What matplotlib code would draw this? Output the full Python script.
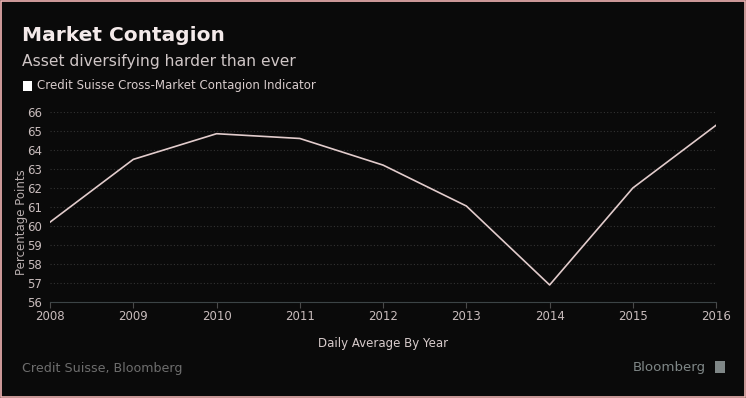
import numpy as np
import matplotlib.pyplot as plt
from matplotlib.patches import Rectangle

# data
years = [2008, 2009, 2010, 2011, 2012, 2013, 2014, 2015, 2016]
contagion = [60.2, 63.5, 64.85, 64.6, 63.2, 61.05, 56.9, 62.0, 65.3]
yticks = list(range(56, 67))

bg = '#0a0a0a'
fig = plt.figure(figsize=(7.46, 3.98), dpi=100, facecolor=bg)
ax = fig.add_axes([0.067, 0.241, 0.893, 0.478], facecolor=bg)

ax.plot(years, contagion, color='#e2cccc', lw=1.2)

ax.set_xlim(2008, 2016)
ax.set_ylim(56, 66)
ax.set_xticks(years)
ax.set_yticks(yticks)
ax.grid(axis='y', color='#333333', ls=(0, (1, 2)), lw=0.8)
for s in ['top', 'right', 'left']:
    ax.spines[s].set_visible(False)
ax.spines['bottom'].set_color('#3c4446')
ax.tick_params(axis='x', colors='#4a4a4a', length=4, width=0.8, pad=2,
               labelcolor='#c8bcbc', labelsize=8.5)
ax.tick_params(axis='y', length=0, pad=6, labelcolor='#c8bcbc', labelsize=8.5)

ax.set_ylabel('Percentage Points', color='#b8aeae', fontsize=8.5)
ax.yaxis.set_label_coords(-0.033, 0.42)
ax.set_xlabel('Daily Average By Year', color='#d8cccc', fontsize=8.5, labelpad=10)

# titles and annotations
fig.text(0.029, 0.91, 'Market Contagion', color='#f4eaea', fontsize=14.5,
         fontweight='bold', va='center')
fig.text(0.029, 0.845, 'Asset diversifying harder than ever', color='#cfc6c6',
         fontsize=11.2, va='center')
fig.patches.append(Rectangle((0.031, 0.772), 0.012, 0.024, transform=fig.transFigure,
                             facecolor='white', edgecolor='none'))
fig.text(0.049, 0.784, 'Credit Suisse Cross-Market Contagion Indicator',
         color='#d8cccc', fontsize=8.5, va='center')
fig.text(0.029, 0.075, 'Credit Suisse, Bloomberg', color='#6e6e6e', fontsize=9.1,
         va='center')
fig.text(0.946, 0.077, 'Bloomberg', color='#7f8787', fontsize=9.6, va='center',
         ha='right')
fig.patches.append(Rectangle((0.958, 0.064), 0.014, 0.03, transform=fig.transFigure,
                             facecolor='#7f8787', edgecolor='none'))

# pink outer border
fig.patches.append(Rectangle((0.001, 0.002), 0.997, 0.995, transform=fig.transFigure,
                             facecolor='none', edgecolor='#f2b4b4', lw=1.2))

fig.savefig('out.png', dpi=100, facecolor=bg)
